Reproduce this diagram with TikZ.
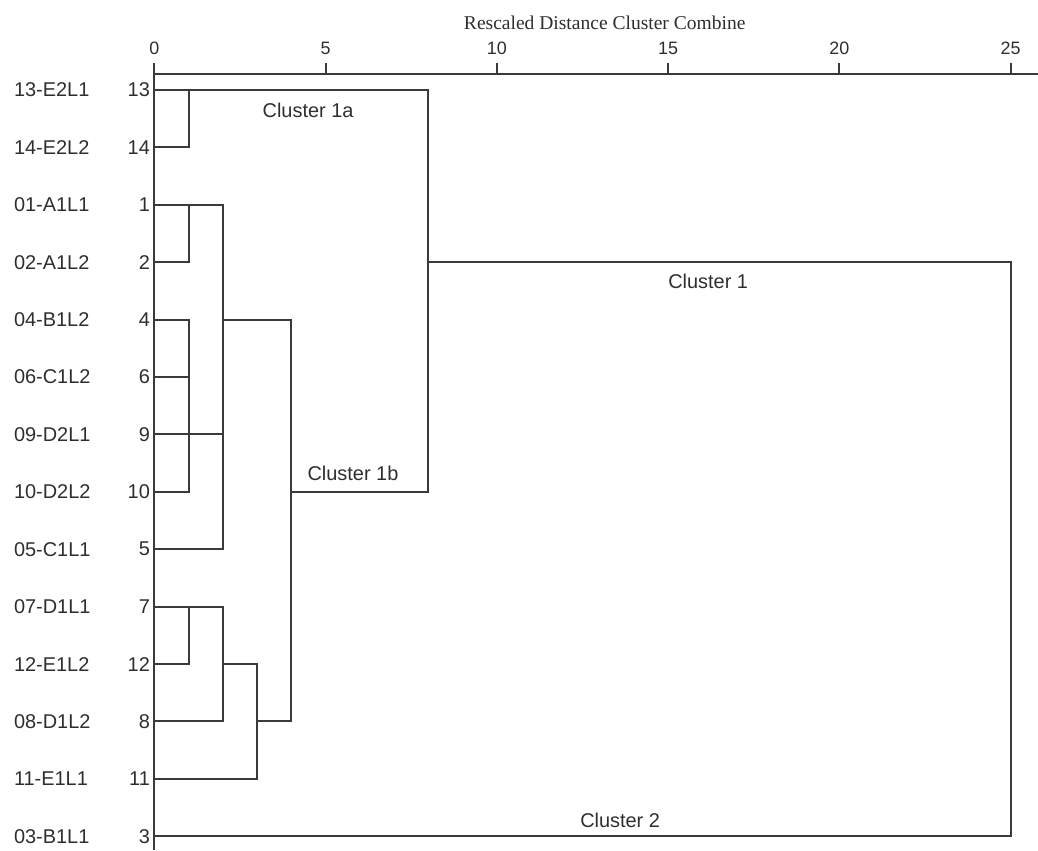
\documentclass[tikz,border=0pt]{standalone}
\usepackage{fontspec}
\setmainfont{Liberation Sans}
\newfontfamily\titlefont{Liberation Serif}
\usetikzlibrary{calc, positioning}
\definecolor{linecolor}{HTML}{3A3A3A}
\definecolor{textcolor}{HTML}{2E2E2E}

\begin{document}
\begin{tikzpicture}[
    x=17.125bp, y=-28.7bp,
    line width=1bp,
    tree/.style={draw=linecolor, line width=1bp},
    leafname/.style={anchor=west, text=textcolor, inner sep=0pt, font=\fontsize{10}{12}\selectfont},
    leafnum/.style={anchor=east, text=textcolor, inner sep=0pt, font=\fontsize{10}{12}\selectfont},
    ticklab/.style={text=textcolor, inner sep=0pt, font=\fontsize{9}{11}\selectfont},
    clusterlab/.style={text=textcolor, inner sep=0pt, font=\fontsize{10}{12}\selectfont}
]
    \useasboundingbox (-4.505,-1.568) rectangle (25.80,13.24);

    % Axis
    \node[text=textcolor, font=\titlefont\fontsize{9.8}{12}\selectfont] (title) at (13.15,-1.17) {Rescaled Distance Cluster Combine};
    \coordinate (ax_left) at (0,-0.279);
    \coordinate (ax_right) at (25.8,-0.279);
    \draw[tree] (ax_left) -- (ax_right);
    \draw[tree] (0,-0.279) -- (0,-0.47) (5,-0.279) -- (5,-0.47) (10,-0.279) -- (10,-0.47)
                (15,-0.279) -- (15,-0.47) (20,-0.279) -- (20,-0.47) (25,-0.279) -- (25,-0.47);
    \node[ticklab] (t0) at (0,-0.73) {0};
    \node[ticklab] (t5) at (5,-0.73) {5};
    \node[ticklab] (t10) at (10,-0.73) {10};
    \node[ticklab] (t15) at (15,-0.73) {15};
    \node[ticklab] (t20) at (20,-0.73) {20};
    \node[ticklab] (t25) at (25,-0.73) {25};

    % Leaves
    \coordinate (l13) at (0,0);  \coordinate (l14) at (0,1);  \coordinate (l1) at (0,2);
    \coordinate (l2) at (0,3);   \coordinate (l4) at (0,4);   \coordinate (l6) at (0,5);
    \coordinate (l9) at (0,6);   \coordinate (l10) at (0,7);  \coordinate (l5) at (0,8);
    \coordinate (l7) at (0,9);   \coordinate (l12) at (0,10); \coordinate (l8) at (0,11);
    \coordinate (l11) at (0,12); \coordinate (l3) at (0,13);

    \node[leafname] (s13) at (-4.125,0) {13-E2L1};  \node[leafnum] (n13) at (-0.1,0) {13};
    \node[leafname] (s14) at (-4.125,1) {14-E2L2};  \node[leafnum] (n14) at (-0.1,1) {14};
    \node[leafname] (s1) at (-4.125,2) {01-A1L1};   \node[leafnum] (n1) at (-0.1,2) {1};
    \node[leafname] (s2) at (-4.125,3) {02-A1L2};   \node[leafnum] (n2) at (-0.1,3) {2};
    \node[leafname] (s4) at (-4.125,4) {04-B1L2};   \node[leafnum] (n4) at (-0.1,4) {4};
    \node[leafname] (s6) at (-4.125,5) {06-C1L2};   \node[leafnum] (n6) at (-0.1,5) {6};
    \node[leafname] (s9) at (-4.125,6) {09-D2L1};   \node[leafnum] (n9) at (-0.1,6) {9};
    \node[leafname] (s10) at (-4.125,7) {10-D2L2};  \node[leafnum] (n10) at (-0.1,7) {10};
    \node[leafname] (s5) at (-4.125,8) {05-C1L1};   \node[leafnum] (n5) at (-0.1,8) {5};
    \node[leafname] (s7) at (-4.125,9) {07-D1L1};   \node[leafnum] (n7) at (-0.1,9) {7};
    \node[leafname] (s12) at (-4.125,10) {12-E1L2}; \node[leafnum] (n12) at (-0.1,10) {12};
    \node[leafname] (s8) at (-4.125,11) {08-D1L2};  \node[leafnum] (n8) at (-0.1,11) {8};
    \node[leafname] (s11) at (-4.125,12) {11-E1L1}; \node[leafnum] (n11) at (-0.1,12) {11};
    \node[leafname] (s3) at (-4.125,13) {03-B1L1};  \node[leafnum] (n3) at (-0.1,13) {3};

    % Left spine
    \coordinate (spine_end) at (0,13.24);
    \draw[tree] (ax_left) -- (spine_end);

    % Merge points
    \coordinate (m_a) at (1,0);
    \coordinate (m_b) at (1,2);
    \coordinate (m_c) at (1,6);
    \coordinate (m_d) at (2,4);
    \coordinate (m_e) at (1,9);
    \coordinate (m_f) at (2,10);
    \coordinate (m_g) at (3,11);
    \coordinate (m_h) at (4,7);
    \coordinate (m_i) at (8,3);
    \coordinate (m_j) at (25,13);

    % Cluster 1a
    \draw[tree] (l13) -| (m_i) |- (m_h);
    \draw[tree] (l14) -| (m_a);

    % Cluster 1b, upper part
    \draw[tree] (l1) -| (m_d) -| (m_h) |- (m_g);
    \draw[tree] (l2) -| (m_b);
    \draw[tree] (l4) -| (m_c) |- (l10);
    \draw[tree] (l6) -- (l6 -| m_c);
    \draw[tree] (l9) -| (m_d);
    \draw[tree] (l5) -| (m_d);

    % Cluster 1b, lower part
    \draw[tree] (l7) -| (m_f);
    \draw[tree] (l12) -| (m_e);
    \draw[tree] (l8) -| (m_f);
    \draw[tree] (m_f) -| (m_g);
    \draw[tree] (l11) -| (m_g);

    % Cluster 1 joins Cluster 2
    \draw[tree] (m_i) -| (m_j) |- (l3);

    % Cluster labels
    \node[clusterlab] (lab_1a) at (4.49,0.35) {Cluster 1a};
    \node[clusterlab] (lab_1b) at (5.8,6.67) {Cluster 1b};
    \node[clusterlab] (lab_1) at (16.17,3.34) {Cluster 1};
    \node[clusterlab] (lab_2) at (13.6,12.73) {Cluster 2};

\end{tikzpicture}
\end{document}
